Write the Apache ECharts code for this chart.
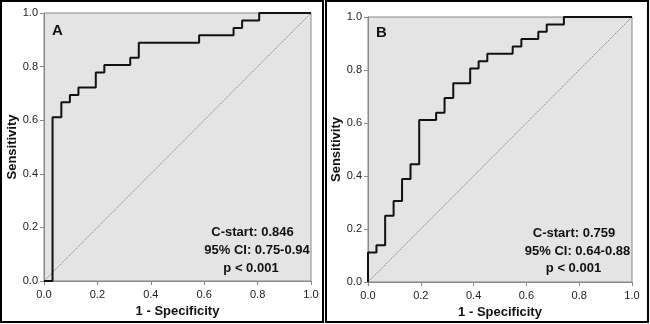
<!DOCTYPE html>
<html><head><meta charset="utf-8">
<script src="https://cdn.jsdelivr.net/npm/echarts@6/dist/echarts.min.js"></script>
<style>html,body{margin:0;padding:0;background:#fff}#c{width:650px;height:324px}</style>
</head><body><div id="c"></div>
<script>
// ROC curve A (1 - specificity, sensitivity)
const fprA = [0, 0.032, 0.065, 0.097, 0.129, 0.194, 0.226, 0.323, 0.355, 0.581, 0.710, 0.742, 0.806, 1];
const tprA = [0, 0.611, 0.667, 0.694, 0.722, 0.778, 0.806, 0.833, 0.889, 0.917, 0.944, 0.972, 1, 1];
// ROC curve B
const fprB = [0, 0, 0.032, 0.065, 0.097, 0.129, 0.161, 0.194, 0.258, 0.290, 0.323, 0.387, 0.419, 0.452, 0.548, 0.581, 0.645, 0.677, 0.742, 1];
const tprB = [0, 0.111, 0.139, 0.25, 0.306, 0.389, 0.444, 0.611, 0.639, 0.694, 0.75, 0.806, 0.833, 0.861, 0.889, 0.917, 0.944, 0.972, 1, 1];
const diagX = [0, 1];
const diagY = [0, 1];
const panelLabels = ['A', 'B'];
const statsA = ['C-start: 0.846', '95% CI: 0.75-0.94', 'p < 0.001'];
const statsB = ['C-start: 0.759', '95% CI: 0.64-0.88', 'p < 0.001'];
const xName = '1 - Specificity';
const yName = 'Sensitivity';

const FF = 'Liberation Sans, Arial, sans-serif';
const zip = (a, b) => a.map((v, i) => [v, b[i]]);

function xAxis(gi) {
  return {
    gridIndex: gi, type: 'value', min: 0, max: 1, interval: 0.2,
    name: xName, nameLocation: 'middle', nameGap: 22,
    nameTextStyle: { fontFamily: FF, fontSize: 13, fontWeight: 'bold', color: '#111' },
    axisLine: { show: true, lineStyle: { color: '#888', width: 1 } },
    axisTick: { show: true, length: 4, lineStyle: { color: '#888' } },
    axisLabel: { fontFamily: FF, fontSize: 11, color: '#222', margin: 8, formatter: v => v.toFixed(1) },
    splitLine: { show: false }
  };
}
function yAxis(gi) {
  return {
    gridIndex: gi, type: 'value', min: 0, max: 1, interval: 0.2,
    name: yName, nameLocation: 'middle', nameGap: 24, nameRotate: 90,
    nameTextStyle: { fontFamily: FF, fontSize: 13, fontWeight: 'bold', color: '#111' },
    axisLine: { show: true, lineStyle: { color: '#888', width: 1 } },
    axisTick: { show: true, length: 4, lineStyle: { color: '#888' } },
    axisLabel: { fontFamily: FF, fontSize: 11, color: '#222', margin: 6, formatter: v => v.toFixed(1) },
    splitLine: { show: false }
  };
}
function diag(gi) {
  return { type: 'line', xAxisIndex: gi, yAxisIndex: gi, data: zip(diagX, diagY), symbol: 'none',
    lineStyle: { color: '#888', width: 1, type: [1.5, 1] }, silent: true, z: 2 };
}
function roc(gi, xs, ys) {
  return { type: 'line', xAxisIndex: gi, yAxisIndex: gi, data: zip(xs, ys), step: 'end', symbol: 'none',
    clip: false, lineStyle: { color: '#111', width: 2 }, silent: true, z: 3 };
}
function statText(lines, cxs, ys) {
  return lines.map((t, i) => ({ type: 'text', x: cxs[i], y: ys[i],
    style: { text: t, fontFamily: FF, fontSize: 13, fontWeight: 'bold', fill: '#111', align: 'center', verticalAlign: 'middle' } }));
}

const chart = echarts.init(document.getElementById('c'), null, { renderer: 'canvas' });
chart.setOption({
  animation: false,
  backgroundColor: '#fff',
  grid: [
    { left: 44, top: 13, width: 267, height: 268, show: true, backgroundColor: '#e4e4e4', borderColor: '#888', borderWidth: 1 },
    { left: 368, top: 17, width: 264, height: 265, show: true, backgroundColor: '#e4e4e4', borderColor: '#888', borderWidth: 1 }
  ],
  xAxis: [xAxis(0), xAxis(1)],
  yAxis: [yAxis(0), yAxis(1)],
  series: [diag(0), roc(0, fprA, tprA), diag(1), roc(1, fprB, tprB)],
  graphic: [
    { type: 'rect', shape: { x: 1, y: 1, width: 322, height: 321 }, style: { fill: 'none', stroke: '#000', lineWidth: 2 }, z: 10 },
    { type: 'rect', shape: { x: 326, y: 1, width: 322, height: 321 }, style: { fill: 'none', stroke: '#000', lineWidth: 2 }, z: 10 },
    { type: 'text', x: 52, y: 31, style: { text: panelLabels[0], fontFamily: FF, fontSize: 15, fontWeight: 'bold', fill: '#111', verticalAlign: 'middle' }, z: 10 },
    { type: 'text', x: 376, y: 33, style: { text: panelLabels[1], fontFamily: FF, fontSize: 15, fontWeight: 'bold', fill: '#111', verticalAlign: 'middle' }, z: 10 },
    ...statText(statsA, [252.5, 257, 251], [232, 250, 268]),
    ...statText(statsB, [574, 577.5, 573.5], [233, 251, 268])
  ]
});
</script></body></html>
